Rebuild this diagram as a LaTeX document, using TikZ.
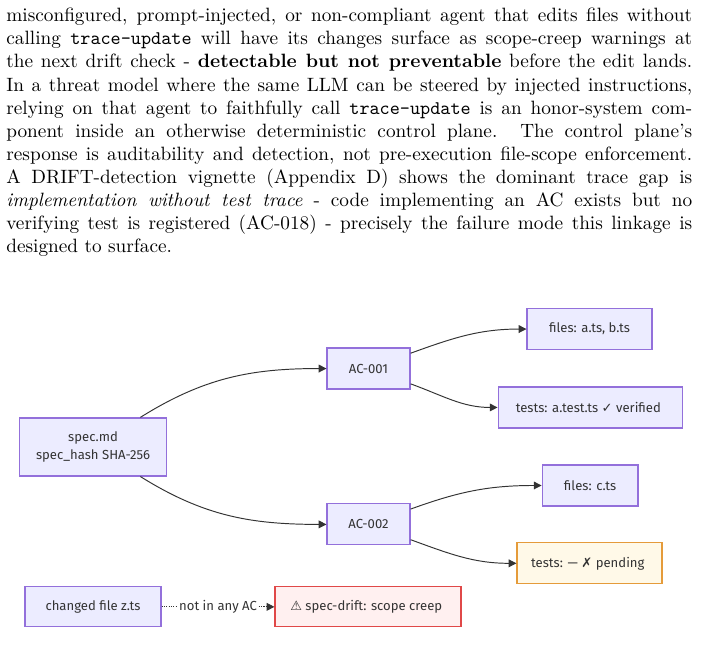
\documentclass[tikz,border=0pt]{standalone}
\usepackage{fontspec}
\newfontfamily\mermaidfont{Fira Sans}
\newfontfamily\symbolfont{DejaVu Sans}
\usetikzlibrary{arrows.meta, positioning}

\definecolor{nodefill}{HTML}{ECECFF}
\definecolor{nodeline}{HTML}{9370DB}
\definecolor{edgeline}{HTML}{333333}
\definecolor{pendfill}{HTML}{FFF9E8}
\definecolor{pendline}{HTML}{E59B3A}
\definecolor{driftfill}{HTML}{FFF0F0}
\definecolor{driftline}{HTML}{E04848}

\begin{document}
\begin{tikzpicture}[
    box/.style={rectangle, draw=nodeline, fill=nodefill, line width=0.6pt,
                minimum height=21.3pt, inner sep=2pt, align=center,
                text=edgeline, font=\mermaidfont\fontsize{6.8}{9.3}\selectfont},
    pendbox/.style={box, draw=pendline, fill=pendfill},
    driftbox/.style={box, draw=driftline, fill=driftfill},
    arrow/.style={-{Triangle[length=4pt, width=4pt]}, draw=edgeline, line width=0.5pt},
    on grid
]

\useasboundingbox (0,0) rectangle (364.9pt,-344.1pt);

%% TEXT
\node[anchor=north west, inner sep=0pt, text width=356pt, align=justify,
      font=\fontsize{10}{12}\selectfont] (para) at (3.1pt,-4pt) {%
misconfigured, prompt-injected, or non-compliant agent that edits files without\linebreak
calling \texttt{trace-update} will have its changes surface as scope-creep warnings at\linebreak
the next drift check - \textbf{detectable but not preventable} before the edit lands.\linebreak
In a threat model where the same LLM can be steered by injected instructions,\linebreak
relying on that agent to faithfully call \texttt{trace-update} is an honor-system com-\linebreak
ponent inside an otherwise deterministic control plane. The control plane's\linebreak
response is auditability and detection, not pre-execution file-scope enforcement.\linebreak
A DRIFT-detection vignette (Appendix D) shows the dominant trace gap is\linebreak
\textit{implementation without test trace} - code implementing an AC exists but no\linebreak
verifying test is registered (AC-018) - precisely the failure mode this linkage is\linebreak
designed to surface.};

%% SPEC
\node[box, minimum width=76.3pt, minimum height=30.1pt] (spec) at (48.3pt,-232pt) {
    spec.md\\
    spec\_hash SHA-256
};

%% AC-001
\node[box, minimum width=43.1pt, above right=40.7pt and 143pt of spec] (ac1) {AC-001};
\node[box, minimum width=64.9pt, above right=20.5pt and 114.7pt of ac1] (files1) {files: a.ts, b.ts};
\node[box, minimum width=95.5pt, below right=20.2pt and 115pt of ac1] (tests1) {
    tests: a.test.ts {\symbolfont ✓} verified
};

\draw[arrow] (spec) to[out=32, in=180] (ac1);
\draw[arrow] (ac1) to[out=20, in=180] (files1);
\draw[arrow] (ac1) to[out=-20, in=180] (tests1);

%% AC-002
\node[box, minimum width=43.1pt, below right=40.2pt and 143pt of spec] (ac2) {AC-002};
\node[box, minimum width=49.8pt, above right=20.2pt and 115pt of ac2] (files2) {files: c.ts};
\node[pendbox, minimum width=75.3pt, below right=20.2pt and 114.7pt of ac2] (tests2) {
    tests: — {\symbolfont ✗} pending
};

\draw[arrow] (spec) to[out=-32, in=180] (ac2);
\draw[arrow] (ac2) to[out=20, in=180] (files2);
\draw[arrow] (ac2) to[out=-20, in=180] (tests2);

%% DRIFT
\node[box, minimum width=70.6pt, minimum height=20.8pt, below=83pt of spec] (changed) {changed file z.ts};
\node[driftbox, minimum width=96.5pt, minimum height=20.8pt, right=142.7pt of changed] (drift) {
    {\symbolfont ⚠} spec-drift: scope creep
};

\draw[arrow, line width=0.4pt, dash pattern=on 0.6pt off 0.6pt] (changed) -- node[fill=white, inner sep=0.5pt,
    text=edgeline, font=\mermaidfont\fontsize{6.8}{9.3}\selectfont] {not in any AC} (drift);

\end{tikzpicture}
\end{document}
